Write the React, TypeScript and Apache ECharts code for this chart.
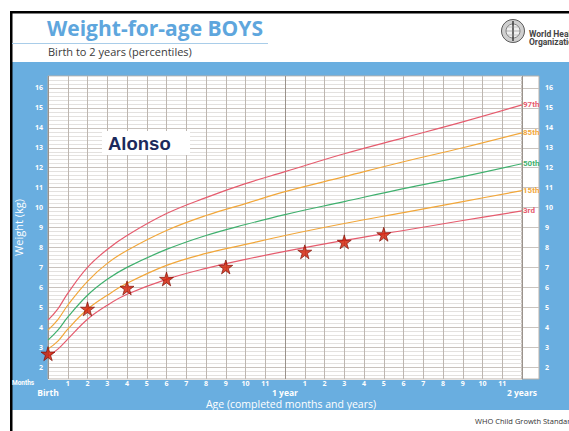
import React, { useEffect, useRef } from "react";
import * as echarts from "echarts";

// ---- data (WHO weight-for-age, boys, kg), read at key ages ----
const MONTHS = [0, 0.5, 1, 2, 3, 4, 6, 8, 10, 12, 15, 18, 21, 24];
const P3 = [2.55, 2.9, 3.4, 4.4, 5.1, 5.65, 6.4, 6.95, 7.4, 7.8, 8.35, 8.85, 9.35, 9.83];
const P15 = [2.9, 3.3, 3.9, 4.9, 5.6, 6.2, 7.1, 7.7, 8.15, 8.6, 9.2, 9.75, 10.3, 10.85];
const P50 = [3.35, 3.85, 4.5, 5.6, 6.4, 7.0, 7.9, 8.6, 9.15, 9.65, 10.3, 10.95, 11.55, 12.2];
const P85 = [3.85, 4.38, 5.1, 6.3, 7.2, 7.85, 8.85, 9.6, 10.2, 10.8, 11.55, 12.3, 13.0, 13.75];
const P97 = [4.35, 4.92, 5.7, 7.0, 7.9, 8.6, 9.7, 10.5, 11.2, 11.8, 12.7, 13.5, 14.3, 15.15];
const PERCENTILE_NAMES = ["97th", "85th", "50th", "15th", "3rd"];

// Alonso's measurements
const CHILD_NAME = "Alonso";
const CHILD_MONTHS = [0, 2, 4, 6, 9, 13, 15, 17];
const CHILD_WEIGHTS = [2.67, 4.92, 5.97, 6.42, 7.02, 7.78, 8.28, 8.66];

// axis ranges / labels
const Y_MIN = 1.4;
const Y_MAX = 16.6;
const X_MIN = 0;
const X_MAX = 24;
const YEAR_LABELS: Record<number, string> = { 0: "Birth", 12: "1 year", 24: "2 years" };

const BLUE = "#69aee0";
const RED = "#e65c6e";
const ORANGE = "#f2a73a";
const GREEN = "#3fb06e";
const NARROW = "Roboto, sans-serif";
const STAR = "path://M50,0 L61,35 L98,35 L68,57 L79,91 L50,70 L21,91 L32,57 L2,35 L39,35 Z";

export default function App() {
  const ref = useRef<HTMLDivElement>(null);
  useEffect(() => {
    document.body.style.margin = "0";
    const chart = echarts.init(ref.current!, null, { renderer: "svg" });
    const curveColors = [RED, ORANGE, GREEN, ORANGE, RED];
    const curves = [P97, P85, P50, P15, P3];
    const minorColors = ["#e3e1df", "#e3e1df", "#e3e1df", "#c9c3be", "#e3e1df"];
    const monthColors = ["#9a928b"].concat(Array(11).fill("#bdb6b0"));
    const yLabel = (v: number) => {
      const r = Math.round(v * 10) / 10;
      return Math.abs(r - Math.round(r)) < 1e-6 ? String(Math.round(r)) : "";
    };
    const axisLabelStyle = { color: "#ffffff", fontSize: 7, fontWeight: "bold" as const, fontFamily: "Open Sans" };
    const option: any = {
      animation: false,
      grid: [
        { left: 48, top: 76, width: 474, height: 303, show: true, backgroundColor: "#ffffff", borderColor: "#b8b1aa", borderWidth: 1 },
        { left: 522, top: 76, width: 17, height: 303, show: true, backgroundColor: "#ffffff", borderColor: "#b8b1aa", borderWidth: 1 },
      ],
      xAxis: [
        {
          type: "value", gridIndex: 0, min: X_MIN, max: X_MAX, interval: 1,
          axisLine: { show: false }, axisTick: { show: false },
          splitLine: { show: true, lineStyle: { color: monthColors, width: 1 } },
          axisLabel: {
            margin: 0, showMinLabel: true, showMaxLabel: true,
            formatter: (v: number) => {
              const r = Math.round(v);
              if (YEAR_LABELS[r] !== undefined) return "{n| }\n{b|" + YEAR_LABELS[r] + "}";
              return "{n|" + (r % 12) + "}\n{b| }";
            },
            rich: {
              n: { ...axisLabelStyle, lineHeight: 8 },
              b: { color: "#ffffff", fontSize: 8.5, fontWeight: "bold", fontFamily: "Open Sans", lineHeight: 10 },
            },
          },
        },
        { type: "value", gridIndex: 1, min: 0, max: 1, show: false },
      ],
      yAxis: [
        {
          type: "value", gridIndex: 0, min: Y_MIN, max: Y_MAX, interval: 0.2, position: "left",
          name: "Weight (kg)", nameLocation: "middle", nameGap: 23, nameRotate: 90,
          nameTextStyle: { color: "#ffffff", fontSize: 11, fontFamily: "Open Sans" },
          axisLine: { show: false }, axisTick: { show: false },
          axisLabel: { ...axisLabelStyle, margin: 5, formatter: yLabel },
          splitLine: { show: true, lineStyle: { color: minorColors, width: 1 } },
        },
        {
          type: "value", gridIndex: 1, min: Y_MIN, max: Y_MAX, interval: 0.2, position: "right",
          axisLine: { show: false }, axisTick: { show: false },
          axisLabel: { ...axisLabelStyle, margin: 6, formatter: yLabel },
          splitLine: { show: true, lineStyle: { color: ["rgba(0,0,0,0)", "rgba(0,0,0,0)", "rgba(0,0,0,0)", "#c9c3be", "rgba(0,0,0,0)"], width: 1 } },
        },
      ],
      series: [
        ...curves.map((c, i) => ({
          type: "line", name: PERCENTILE_NAMES[i], xAxisIndex: 0, yAxisIndex: 0,
          data: MONTHS.map((m, j) => [m, c[j]]),
          smooth: 0.4, showSymbol: false, symbol: "none",
          lineStyle: { color: curveColors[i], width: 1.2 },
          itemStyle: { color: curveColors[i] },
          endLabel: {
            show: true, formatter: PERCENTILE_NAMES[i], distance: 1, color: curveColors[i],
            fontSize: 8, fontWeight: "bold", fontFamily: NARROW,
          },
          z: 3,
        })),
        {
          type: "scatter", name: CHILD_NAME, xAxisIndex: 0, yAxisIndex: 0,
          data: CHILD_MONTHS.map((m, j) => [m, CHILD_WEIGHTS[j]]),
          symbol: STAR, symbolSize: 14,
          itemStyle: { color: "#d11a00", borderColor: "#7a0a00", borderWidth: 0.8 },
          z: 5,
        },
      ],
      graphic: [
        { type: "rect", z: -10, shape: { x: 12, y: 62, width: 557, height: 348 }, style: { fill: BLUE } },
        { type: "rect", z: 10, shape: { x: 10, y: 11, width: 559, height: 2.5 }, style: { fill: "#000" } },
        { type: "rect", z: 10, shape: { x: 10, y: 11, width: 2.5, height: 420 }, style: { fill: "#000" } },
        { type: "text", z: 10, style: { x: 47, y: 28, text: "Weight-for-age BOYS", font: 'bold 21px "Open Sans"', fill: "#5ea6dd", align: "left", verticalAlign: "middle" } },
        { type: "line", z: 10, shape: { x1: 12, y1: 43.5, x2: 268, y2: 43.5 }, style: { stroke: "#a9cde9", lineWidth: 1.2 } },
        { type: "text", z: 10, style: { x: 48, y: 51, text: "Birth to 2 years (percentiles)", font: '11px "Open Sans"', fill: "#3a3a3a", align: "left", verticalAlign: "middle" } },
        { type: "circle", z: 10, shape: { cx: 513, cy: 31, r: 11.5 }, style: { fill: "#cfcfcf", stroke: "#5a5a5a", lineWidth: 1 } },
        { type: "circle", z: 10, shape: { cx: 513, cy: 31, r: 7 }, style: { fill: "#f0f0f0", stroke: "#6a6a6a", lineWidth: 0.8 } },
        { type: "line", z: 10, shape: { x1: 513, y1: 21, x2: 513, y2: 41 }, style: { stroke: "#333", lineWidth: 1.4 } },
        { type: "line", z: 10, shape: { x1: 506, y1: 31, x2: 520, y2: 31 }, style: { stroke: "#888", lineWidth: 0.6 } },
        { type: "line", z: 10, shape: { x1: 507, y1: 27, x2: 519, y2: 27 }, style: { stroke: "#999", lineWidth: 0.5 } },
        { type: "line", z: 10, shape: { x1: 507, y1: 35, x2: 519, y2: 35 }, style: { stroke: "#999", lineWidth: 0.5 } },
        { type: "text", z: 10, style: { x: 529, y: 33.5, text: "World Health", font: "bold 8.5px " + NARROW, fill: "#444", align: "left", verticalAlign: "middle" } },
        { type: "text", z: 10, style: { x: 529, y: 42, text: "Organization", font: "bold 8.5px " + NARROW, fill: "#444", align: "left", verticalAlign: "middle" } },
        { type: "text", z: 10, style: { x: 12, y: 383, text: "Months", font: "bold 6.5px " + NARROW, fill: "#fff", align: "left", verticalAlign: "middle" } },
        { type: "text", z: 10, style: { x: 291, y: 404, text: "Age (completed months and years)", font: '10.5px "Open Sans"', fill: "#fff", align: "center", verticalAlign: "middle" } },
        { type: "text", z: 10, style: { x: 475, y: 421, text: "WHO Child Growth Standards", font: '7.5px "Open Sans"', fill: "#333", align: "left", verticalAlign: "middle" } },
        { type: "rect", z: 20, shape: { x: 102, y: 131, width: 88, height: 24 }, style: { fill: "#ffffff" } },
        { type: "text", z: 21, style: { x: 108, y: 143.5, text: CHILD_NAME, font: 'bold 18.5px "Liberation Sans"', fill: "#1b2a5c", align: "left", verticalAlign: "middle" } },
      ],
    };
    chart.setOption(option);
    return () => chart.dispose();
  }, []);
  return <div ref={ref} style={{ width: 569, height: 431, background: "#fff" }} />;
}
